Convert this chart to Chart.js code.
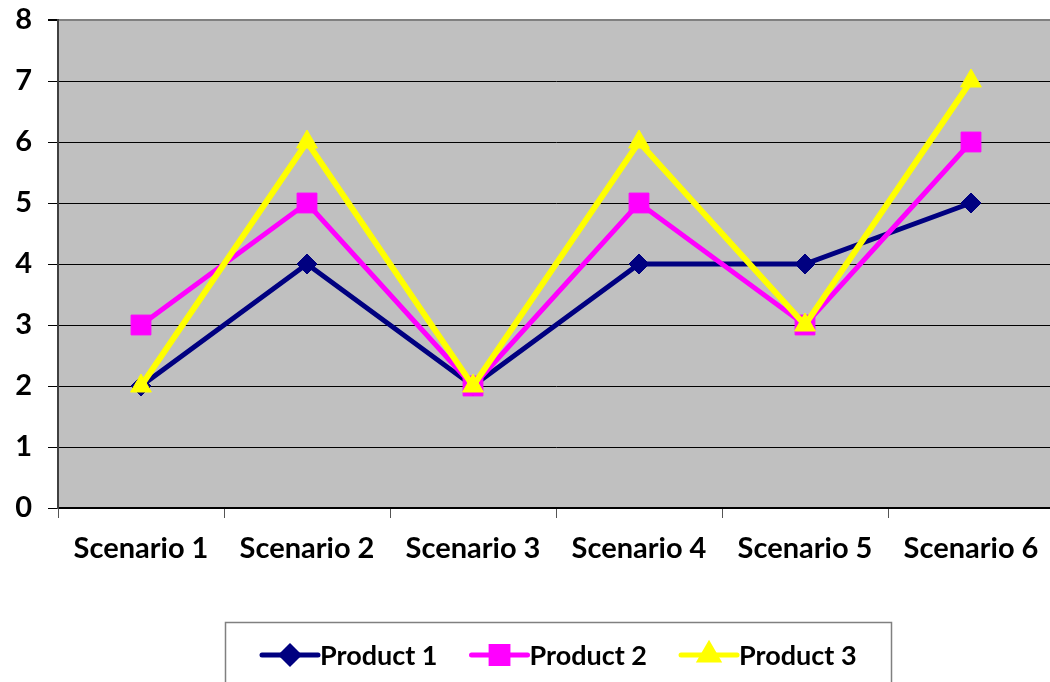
<!DOCTYPE html>
<html>
<head>
<meta charset="utf-8">
<script src="https://cdn.jsdelivr.net/npm/chart.js@4.4.0/dist/chart.umd.min.js"></script>
<style>
  html, body { margin: 0; padding: 0; background: #fff; overflow: hidden; }
  #wrap { width: 1069px; height: 682px; position: relative; }
</style>
</head>
<body>
<div id="wrap"><canvas id="chart"></canvas></div>
<script>
const scenarios = ['Scenario 1', 'Scenario 2', 'Scenario 3', 'Scenario 4', 'Scenario 5', 'Scenario 6'];
const product1 = [2, 4, 2, 4, 4, 5];
const product2 = [3, 5, 2, 5, 3, 6];
const product3 = [2, 6, 2, 6, 3, 7];
const yTicks = [0, 1, 2, 3, 4, 5, 6, 7, 8];

const FONT = 'Lato, "Open Sans", sans-serif';

// grey plot area like the old Excel charts
const plotBg = {
  id: 'plotBg',
  beforeDraw(chart) {
    const a = chart.chartArea;
    const ctx = chart.ctx;
    ctx.save();
    ctx.fillStyle = '#c0c0c0';
    ctx.fillRect(a.left, a.top, a.right - a.left, a.bottom - a.top);
    ctx.restore();
  }
};

// boxed legend at the bottom, line + marker + label
const boxLegend = {
  id: 'boxLegend',
  afterDraw(chart) {
    const ctx = chart.ctx;
    ctx.save();
    ctx.strokeStyle = '#808080';
    ctx.lineWidth = 1.5;
    ctx.strokeRect(225.5, 622.5, 666, 80);
    ctx.font = 'bold 27px ' + FONT;
    ctx.textBaseline = 'middle';
    let x = 262;
    const y = 655;
    chart.data.datasets.forEach(ds => {
      ctx.strokeStyle = ds.borderColor;
      ctx.lineWidth = 5;
      ctx.lineCap = 'round';
      ctx.beginPath();
      ctx.moveTo(x, y);
      ctx.lineTo(x + 56, y);
      ctx.stroke();
      ctx.fillStyle = ds.pointBackgroundColor;
      ctx.strokeStyle = ds.pointBorderColor;
      Chart.helpers.drawPoint(ctx, { pointStyle: ds.pointStyle, radius: ds.pointRadius * 0.85, borderWidth: 1, rotation: 0 }, x + 28, y);
      ctx.fillStyle = '#000';
      ctx.fillText(ds.label, x + 58, y + 1);
      x += 58 + ctx.measureText(ds.label).width + 34;
    });
    ctx.restore();
  }
};

new Chart(document.getElementById('chart'), {
  type: 'line',
  data: {
    labels: scenarios,
    datasets: [
      {
        label: 'Product 1', data: product1, order: 2,
        borderColor: '#000080', borderWidth: 5,
        pointStyle: 'rectRot', pointRadius: 10,
        pointBackgroundColor: '#000080', pointBorderColor: '#000080', pointBorderWidth: 1
      },
      {
        label: 'Product 2', data: product2, order: 1,
        borderColor: '#ff00ff', borderWidth: 5,
        pointStyle: 'rect', pointRadius: 14,
        pointBackgroundColor: '#ff00ff', pointBorderColor: '#ff00ff', pointBorderWidth: 1
      },
      {
        label: 'Product 3', data: product3, order: 0,
        borderColor: '#ffff00', borderWidth: 6,
        pointStyle: 'triangle', pointRadius: 12,
        pointBackgroundColor: '#ffff00', pointBorderColor: '#ffff00', pointBorderWidth: 1
      }
    ]
  },
  options: {
    responsive: true,
    maintainAspectRatio: false,
    animation: false,
    layout: { padding: { top: 20, right: 2, left: 0, bottom: 0 } },
    elements: { line: { tension: 0 } },
    plugins: {
      legend: { display: false },
      tooltip: { enabled: false }
    },
    scales: {
      x: {
        offset: true,
        grid: {
          offset: true,
          drawOnChartArea: false,
          drawTicks: true,
          tickLength: 10,
          color: '#555'
        },
        border: { color: '#000', width: 2 },
        ticks: {
          color: '#000',
          font: { family: FONT, size: 29, weight: 'bold' },
          padding: 13,
          maxRotation: 0
        },
        afterFit(scale) {
          scale.height = 174;
          scale.paddingLeft = 0;
          scale.paddingRight = 0;
        }
      },
      y: {
        min: 0,
        max: 8,
        afterBuildTicks(scale) { scale.ticks = yTicks.map(v => ({ value: v })); },
        grid: {
          color: ctx => (ctx.tick && ctx.tick.value === 8 ? '#808080' : '#000'),
          lineWidth: ctx => (ctx.tick && ctx.tick.value === 8 ? 2 : 1),
          tickColor: '#000',
          tickLength: 10
        },
        border: { color: '#404040', width: 2 },
        ticks: {
          color: '#000',
          font: { family: FONT, size: 29, weight: 'bold' },
          padding: 16
        },
        afterFit(scale) {
          scale.width = 58;
          scale.paddingTop = 0;
          scale.paddingBottom = 0;
        }
      }
    }
  },
  plugins: [plotBg, boxLegend]
});
</script>
</body>
</html>
